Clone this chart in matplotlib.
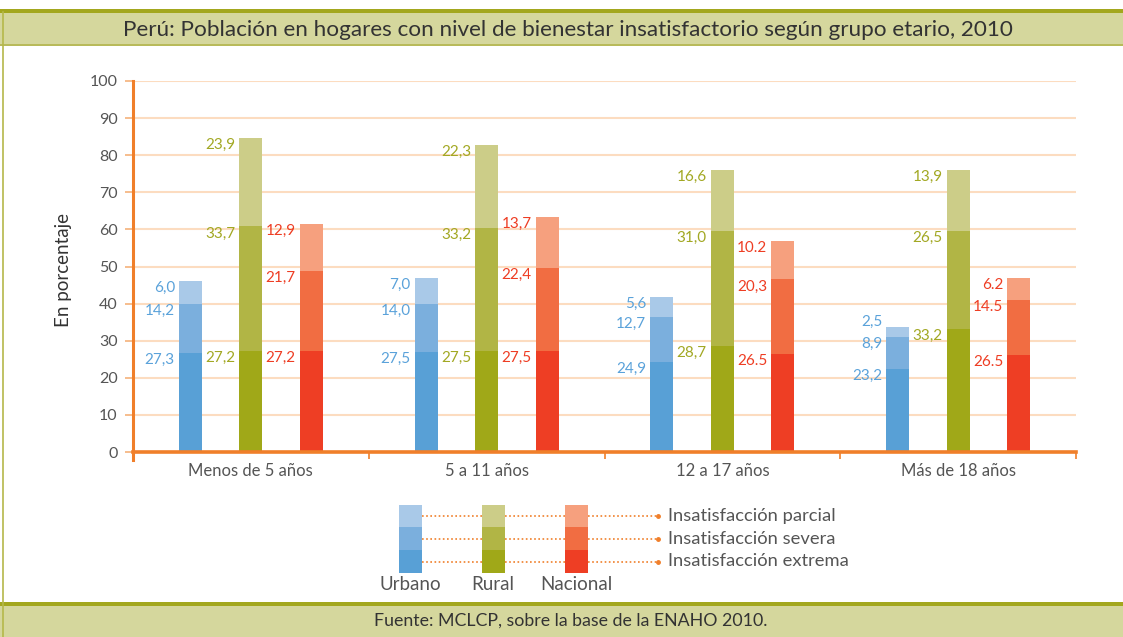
import matplotlib.pyplot as plt
import numpy as np
from matplotlib.patches import Rectangle

plt.rcParams['font.family'] = ['Lato', 'DejaVu Sans']

grupos = ['Menos de 5 años', '5 a 11 años', '12 a 17 años', 'Más de 18 años']
areas = ['Urbano', 'Rural', 'Nacional']
niveles = ['Insatisfacción extrema', 'Insatisfacción severa', 'Insatisfacción parcial']

# alturas de cada tramo (extrema, severa, parcial)
urbano_extrema = [26.6, 26.9, 24.2, 22.3]
urbano_severa = [13.4, 13.1, 12.1, 8.6]
urbano_parcial = [6.0, 7.0, 5.6, 2.7]
rural_extrema = [27.2, 27.2, 28.5, 33.1]
rural_severa = [33.6, 33.3, 31.2, 26.6]
rural_parcial = [23.9, 22.3, 16.4, 16.4]
nacional_extrema = [27.2, 27.2, 26.3, 26.1]
nacional_severa = [21.5, 22.5, 20.2, 14.8]
nacional_parcial = [12.8, 13.7, 10.5, 6.1]

# etiquetas tal como aparecen en el original
urbano_txt_extrema = ['27,3', '27,5', '24,9', '23,2']
urbano_txt_severa = ['14,2', '14,0', '12,7', '8,9']
urbano_txt_parcial = ['6,0', '7,0', '5,6', '2,5']
rural_txt_extrema = ['27,2', '27,5', '28,7', '33,2']
rural_txt_severa = ['33,7', '33,2', '31,0', '26,5']
rural_txt_parcial = ['23,9', '22,3', '16,6', '13,9']
nacional_txt_extrema = ['27,2', '27,5', '26.5', '26.5']
nacional_txt_severa = ['21,7', '22,4', '20,3', '14.5']
nacional_txt_parcial = ['12,9', '13,7', '10.2', '6.2']

colores = {
    'Urbano': ['#58a0d6', '#7bafdd', '#a9c9e8'],
    'Rural': ['#a0a818', '#b1b545', '#cccd88'],
    'Nacional': ['#ee3e24', '#f16d42', '#f6a07e'],
}
color_txt = {'Urbano': '#5aa2da', 'Rural': '#a2a823', 'Nacional': '#ee3d23'}

datos = {
    'Urbano': [urbano_extrema, urbano_severa, urbano_parcial],
    'Rural': [rural_extrema, rural_severa, rural_parcial],
    'Nacional': [nacional_extrema, nacional_severa, nacional_parcial],
}
textos = {
    'Urbano': [urbano_txt_extrema, urbano_txt_severa, urbano_txt_parcial],
    'Rural': [rural_txt_extrema, rural_txt_severa, rural_txt_parcial],
    'Nacional': [nacional_txt_extrema, nacional_txt_severa, nacional_txt_parcial],
}

naranja = '#f07f2a'
grilla = '#fcdcc0'
gris = '#555555'
oliva = '#a3a71e'
banner = '#d5d79d'

W, H = 1123, 637
fig = plt.figure(figsize=(W / 100, H / 100), dpi=100)

# capa de fondo en pixeles para marcos, banners y leyenda
bg = fig.add_axes([0, 0, 1, 1], zorder=0)
bg.set_xlim(0, W)
bg.set_ylim(H, 0)
bg.axis('off')
bg.add_patch(Rectangle((0, 9), W, 3.5, color=oliva, lw=0))
bg.add_patch(Rectangle((0, 12.5), W, 32, color=banner, lw=0))
bg.add_patch(Rectangle((0, 44), W, 1.5, color='#b8ba5a', lw=0))
bg.add_patch(Rectangle((0, 602), W, 4, color=oliva, lw=0))
bg.add_patch(Rectangle((0, 606), W, 31, color=banner, lw=0))
bg.plot([2.5, 2.5], [12, 637], color='#b5b84a', lw=1.2)
bg.text(568, 30, 'Perú: Población en hogares con nivel de bienestar insatisfactorio según grupo etario, 2010',
        ha='center', va='center', fontsize=16.2, color='#333333')
bg.text(571, 621, 'Fuente: MCLCP, sobre la base de la ENAHO 2010.',
        ha='center', va='center', fontsize=12.8, color='#333333')
bg.text(63, 270, 'En porcentaje', rotation=90, ha='center', va='center', fontsize=13.5, color='#333333')

# leyenda
leg_x = [399, 482, 565]
leg_y = [550, 527, 505]
leg_h = [23, 23, 22]
for i, area in enumerate(areas):
    for j in range(3):
        bg.add_patch(Rectangle((leg_x[i], leg_y[j]), 22.5, leg_h[j], color=colores[area][j], lw=0))
    bg.text(leg_x[i] + 11, 585, area, ha='center', va='center', fontsize=13.5, color=gris)
for j in range(3):
    yc = leg_y[j] + leg_h[j] / 2
    for x0, x1 in [(421.5, 482), (504.5, 565), (587.5, 658)]:
        bg.plot([x0, x1], [yc, yc], color=naranja, lw=1.2, ls=(0, (1, 1.5)))
    bg.plot([658], [yc], 'o', color=naranja, ms=2.5)
    bg.text(668, yc, niveles[j], ha='left', va='center', fontsize=13.2, color=gris)

# grafico principal
ax = fig.add_axes([133 / W, (H - 460) / H, (1076 - 133) / W, (460 - 81) / H], zorder=1)
ax.set_facecolor('none')
ax.set_xlim(-0.5, 3.5)
ax.set_ylim(-2.15, 100)

x = np.arange(len(grupos))
sep = 0.2566
ancho = 0.0976
px_por_unidad = 3.71

for i, area in enumerate(areas):
    xs = x + (i - 1) * sep
    base = np.zeros(len(grupos))
    for j in range(3):
        alto = np.array(datos[area][j])
        ax.bar(xs, alto, ancho, bottom=base, color=colores[area][j], lw=0, zorder=3)
        tope = base + alto
        for k in range(len(grupos)):
            dy = -7 if alto[k] * px_por_unidad > 12 else 5
            ax.annotate(textos[area][j][k], xy=(xs[k] - ancho / 2, tope[k]), xytext=(-4, dy),
                        textcoords='offset pixels', ha='right', va='center',
                        fontsize=11, color=color_txt[area], zorder=4)
        base = tope

ax.set_yticks(range(0, 101, 10))
ax.set_yticklabels([str(v) for v in range(0, 101, 10)], fontsize=11.5, color=gris)
ax.yaxis.grid(True, color=grilla, lw=1.5, zorder=0)
ax.tick_params(axis='y', length=6, width=1.2, color='#f5b27a', pad=5)

ax.set_xticks([-0.5, 0.5, 1.5, 2.5, 3.5])
ax.set_xticklabels([])
ax.set_xticks(x, minor=True)
ax.set_xticklabels(grupos, minor=True)
ax.tick_params(axis='x', which='major', length=5, width=1.2, color=naranja, direction='out')
ax.tick_params(axis='x', which='minor', length=0, pad=8, labelsize=12, labelcolor=gris)

for s in ['top', 'right']:
    ax.spines[s].set_visible(False)
ax.spines['left'].set_color(naranja)
ax.spines['left'].set_linewidth(2.2)
ax.spines['left'].set_bounds(-2.15, 100)
ax.spines['bottom'].set_color(naranja)
ax.spines['bottom'].set_linewidth(2.6)
ax.spines['bottom'].set_position(('data', 0))
ax.spines['bottom'].set_zorder(5)

plt.savefig('out.png', dpi=100)
